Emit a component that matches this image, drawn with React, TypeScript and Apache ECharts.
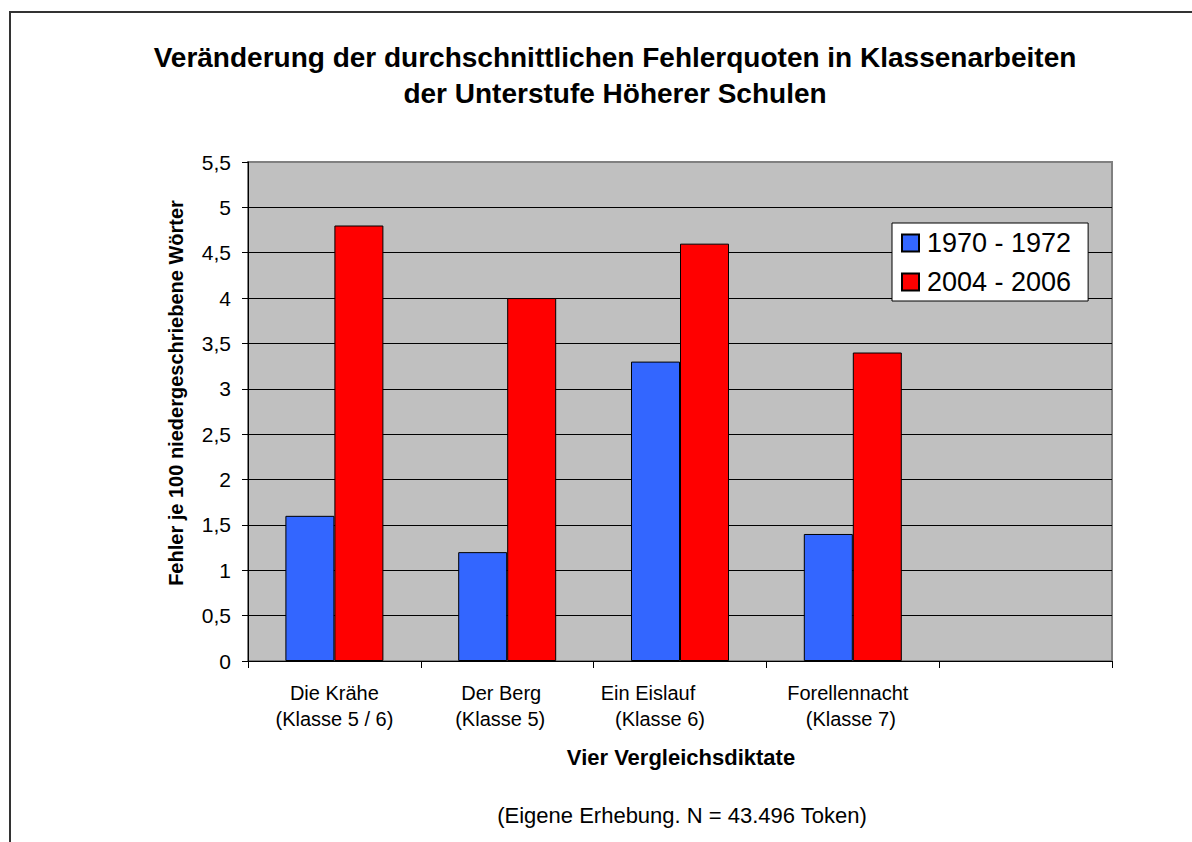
import React, { useEffect, useRef } from "react";
import * as echarts from "echarts";

const titleLines = [
  "Veränderung der durchschnittlichen Fehlerquoten in Klassenarbeiten",
  "der Unterstufe Höherer Schulen",
];
const categories = ["Die Krähe", "Der Berg", "Ein Eislauf", "Forellennacht", ""];
const subLabels = ["(Klasse 5 / 6)", "(Klasse 5)", "(Klasse 6)", "(Klasse 7)", ""];
const seriesNames = ["1970 - 1972", "2004 - 2006"];
const values1970 = [1.6, 1.2, 3.3, 1.4, null];
const values2004 = [4.8, 4.0, 4.6, 3.4, null];
const yAxisName = "Fehler je 100 niedergeschriebene Wörter";
const xAxisName = "Vier Vergleichsdiktate";
const footnote = "(Eigene Erhebung. N = 43.496 Token)";

// label shifts (px to the left) for line 1 / line 2 of each category label
const shift1 = [0, 6, 32, 5, 0];
const shift2 = [0, 7, 20, 2, 0];

const FONT = "'Liberation Sans', Arial, sans-serif";

export default function App() {
  const ref = useRef<HTMLDivElement>(null);
  useEffect(() => {
    if (!ref.current) return;
    const chart = echarts.init(ref.current, null, { renderer: "svg" });
    const rich: any = {};
    categories.forEach((_, i) => {
      rich["a" + i] = {
        fontSize: 20,
        fontFamily: FONT,
        color: "#000",
        lineHeight: 26,
        align: "center",
        padding: [0, shift1[i] * 2, 0, 0],
      };
      rich["b" + i] = {
        fontSize: 20,
        fontFamily: FONT,
        color: "#000",
        lineHeight: 26,
        align: "center",
        padding: [0, shift2[i] * 2, 0, 0],
      };
    });
    const splitColors = Array.from({ length: 12 }, (_, i) => (i === 11 ? "#808080" : "#000"));
    chart.setOption({
      animation: false,
      backgroundColor: "#fff",
      textStyle: { fontFamily: FONT },
      grid: {
        left: 248,
        right: 80,
        top: 162,
        bottom: 181,
        show: true,
        backgroundColor: "#C0C0C0",
        borderColor: "#808080",
        borderWidth: 2,
      },
      legend: {
        orient: "vertical",
        left: 892,
        top: 223,
        backgroundColor: "#fff",
        borderColor: "#000",
        borderWidth: 1,
        borderRadius: 0,
        padding: [5, 17, 4, 9],
        itemWidth: 17,
        itemHeight: 17,
        itemGap: 9,
        icon: "rect",
        textStyle: { fontSize: 27, fontFamily: FONT, color: "#000", lineHeight: 30, padding: [0, 0, 0, 3] },
        data: seriesNames,
      },
      xAxis: {
        type: "category",
        data: categories,
        axisLine: { lineStyle: { color: "#000", width: 1 } },
        axisTick: { show: true, length: 7, lineStyle: { color: "#000" } },
        axisLabel: {
          interval: 0,
          margin: 19,
          formatter: (_v: string, i: number) =>
            categories[i] ? `{a${i}|${categories[i]}}\n{b${i}|${subLabels[i]}}` : "",
          rich,
        },
        splitLine: { show: false },
      },
      yAxis: {
        type: "value",
        min: 0,
        max: 5.5,
        interval: 0.5,
        axisLine: { show: true, lineStyle: { color: "#000", width: 1 } },
        axisTick: { show: true, length: 6, lineStyle: { color: "#000" } },
        axisLabel: {
          fontSize: 21,
          fontFamily: FONT,
          color: "#000",
          margin: 17,
          formatter: (v: number) => String(v).replace(".", ","),
        },
        splitLine: { show: true, lineStyle: { color: splitColors, width: 1 } },
      },
      series: [
        {
          name: seriesNames[0],
          type: "bar",
          data: values1970,
          barWidth: 49,
          barGap: "0%",
          itemStyle: { color: "#3366FF", borderColor: "#000", borderWidth: 1 },
        },
        {
          name: seriesNames[1],
          type: "bar",
          data: values2004,
          barWidth: 49,
          barGap: "0%",
          itemStyle: { color: "#FF0000", borderColor: "#000", borderWidth: 1 },
        },
      ],
      graphic: [
        {
          type: "rect",
          shape: { x: 10, y: 12, width: 1300, height: 900 },
          style: { fill: "none", stroke: "#333", lineWidth: 2 },
          silent: true,
        },
        {
          type: "text",
          x: 615,
          y: 57,
          style: {
            text: titleLines[0],
            fontSize: 28,
            fontWeight: "bold",
            fontFamily: FONT,
            fill: "#000",
            align: "center",
            verticalAlign: "middle",
          },
        },
        {
          type: "text",
          x: 615,
          y: 93,
          style: {
            text: titleLines[1],
            fontSize: 28,
            fontWeight: "bold",
            fontFamily: FONT,
            fill: "#000",
            align: "center",
            verticalAlign: "middle",
          },
        },
        {
          type: "text",
          x: 176,
          y: 393,
          rotation: Math.PI / 2,
          style: {
            text: yAxisName,
            fontSize: 20,
            fontWeight: "bold",
            fontFamily: FONT,
            fill: "#000",
            align: "center",
            verticalAlign: "middle",
          },
        },
        {
          type: "text",
          x: 681,
          y: 757,
          style: {
            text: xAxisName,
            fontSize: 22,
            fontWeight: "bold",
            fontFamily: FONT,
            fill: "#000",
            align: "center",
            verticalAlign: "middle",
          },
        },
        {
          type: "text",
          x: 682,
          y: 815,
          style: {
            text: footnote,
            fontSize: 22,
            fontFamily: FONT,
            fill: "#000",
            align: "center",
            verticalAlign: "middle",
          },
        },
      ],
    });
    return () => chart.dispose();
  }, []);
  return (
    <div
      ref={ref}
      style={{ position: "fixed", left: 0, top: 0, width: 1192, height: 842 }}
    />
  );
}
